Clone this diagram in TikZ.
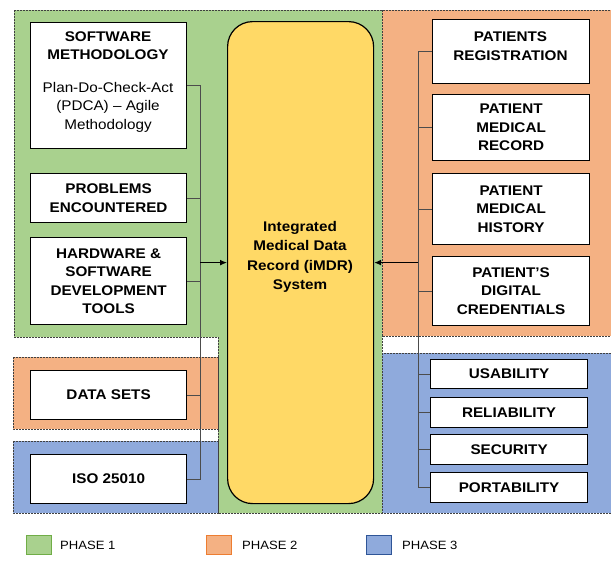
\documentclass[tikz,border=0pt]{standalone}
\usepackage{fontspec}
\setmainfont{Liberation Sans}[FakeStretch=1.09]
\usetikzlibrary{arrows.meta}
\definecolor{pgreen}{HTML}{A9D18E}
\definecolor{porange}{HTML}{F4B183}
\definecolor{pblue}{HTML}{8FAADC}
\definecolor{pyellow}{HTML}{FFD966}
\definecolor{lgreen}{HTML}{70AD47}
\definecolor{lorange}{HTML}{ED7D31}
\definecolor{lblue}{HTML}{2F5597}
\begin{document}
\begin{tikzpicture}[x=1pt,y=-1pt,
  region/.style={draw=black!75, line width=0.6pt, dash pattern=on 2pt off 1pt},
  box/.style={draw=black, line width=1.2pt, fill=white, inner sep=0pt, align=center,
    font=\fontsize{14}{18.5}\selectfont\bfseries, anchor=north west},
  btext/.style={inner sep=0pt, align=center, font=\fontsize{14}{18.5}\selectfont\bfseries},
  conn/.style={draw=black!70, line width=0.6pt},
  arr/.style={draw=black, line width=1.2pt, -{Latex[length=7pt,width=6pt]}},
  legsq/.style={line width=0.8pt, minimum width=25pt, minimum height=19pt, inner sep=0pt, anchor=north west},
  legtext/.style={inner sep=0pt, anchor=west, font=\fontsize{12}{14}\selectfont}
]
\useasboundingbox (0,0) rectangle (611,566);

% phase regions
\path[region, fill=pgreen] (14,10) -- (382,10) -- (382,513) -- (218,513) -- (218,337) -- (14,337) -- cycle;
\path[region, fill=porange] (382,10) rectangle (611,336);
\path[region, fill=pblue] (382,353) rectangle (611,513);
\path[region, fill=porange] (13,357) rectangle (218,429);
\path[region, fill=pblue] (13,441) rectangle (218,513);

% central system
\node[draw=black, line width=1.2pt, fill=pyellow, rounded corners=25pt, inner sep=0pt,
  minimum width=146pt, minimum height=482pt, anchor=north west] (yel) at (227,21) {};
\node[btext, font=\fontsize{14}{19.5}\selectfont\bfseries] (yelt) at (300,257)
  {Integrated\\Medical Data\\Record (iMDR)\\System};

% bus coordinates
\coordinate (lb) at (200,0);
\coordinate (rb) at (418,0);

% left boxes
\node[box, minimum width=156pt, minimum height=126pt] (sw) at (30,22) {};
\node[btext] (swt) at (108,82) {SOFTWARE\\METHODOLOGY\\[14pt]
  {\mdseries Plan-Do-Check-Act}\\{\mdseries (PDCA) -- Agile}\\{\mdseries Methodology}};
\node[box, minimum width=156pt, minimum height=49pt] (pe) at (30,173) {PROBLEMS\\ENCOUNTERED};
\node[box, minimum width=156pt, minimum height=87pt] (hw) at (30,237) {HARDWARE \&\\SOFTWARE\\DEVELOPMENT\\TOOLS};
\node[box, minimum width=156pt, minimum height=49pt] (ds) at (30,370) {DATA SETS};
\node[box, minimum width=156pt, minimum height=49pt] (iso) at (30,454) {ISO 25010};

% right boxes
\node[box, minimum width=157pt, minimum height=64pt] (pr) at (432,19) {};
\node[btext] (prt) at (510.5,46) {PATIENTS\\REGISTRATION};
\node[box, minimum width=157pt, minimum height=66pt] (pmr) at (432,94) {PATIENT\\MEDICAL\\RECORD};
\node[box, minimum width=157pt, minimum height=71pt] (pmh) at (432,173) {PATIENT\\MEDICAL\\HISTORY};
\node[box, minimum width=157pt, minimum height=69pt] (pdc) at (432,256) {PATIENT'S\\DIGITAL\\CREDENTIALS};
\node[box, minimum width=157pt, minimum height=29pt] (us) at (430,359) {USABILITY};
\node[box, minimum width=157pt, minimum height=30pt] (rel) at (430,397) {RELIABILITY};
\node[box, minimum width=157pt, minimum height=30pt] (sec) at (430,434) {SECURITY};
\node[box, minimum width=157pt, minimum height=30pt] (port) at (430,472) {PORTABILITY};

% left connectors
\begin{scope}[on background layer/.style={}]
\end{scope}
\draw[conn] (sw.east) -- (sw.east -| lb) -- (iso.east -| lb) -- (iso.east);
\foreach \n in {pe,hw,ds} \draw[conn] (\n.east) -- (\n.east -| lb);
\draw[arr] (yel.west -| lb) -- (yel.west);

% right connectors
\draw[conn] (pr.west) -- (pr.west -| rb) -- (port.west -| rb) -- (port.west);
\foreach \n in {pmr,pmh,pdc,us,rel,sec} \draw[conn] (\n.west) -- (\n.west -| rb);
\draw[arr] (yel.east -| rb) -- (yel.east);

% legend
\node[legsq, fill=pgreen, draw=lgreen] (l1) at (26,535) {};
\node[legtext] (l1t) at (60,545) {PHASE 1};
\node[legsq, fill=porange, draw=lorange] (l2) at (206,535) {};
\node[legtext] (l2t) at (242,545) {PHASE 2};
\node[legsq, fill=pblue, draw=lblue] (l3) at (366,535) {};
\node[legtext] (l3t) at (402,545) {PHASE 3};
\end{tikzpicture}
\end{document}
